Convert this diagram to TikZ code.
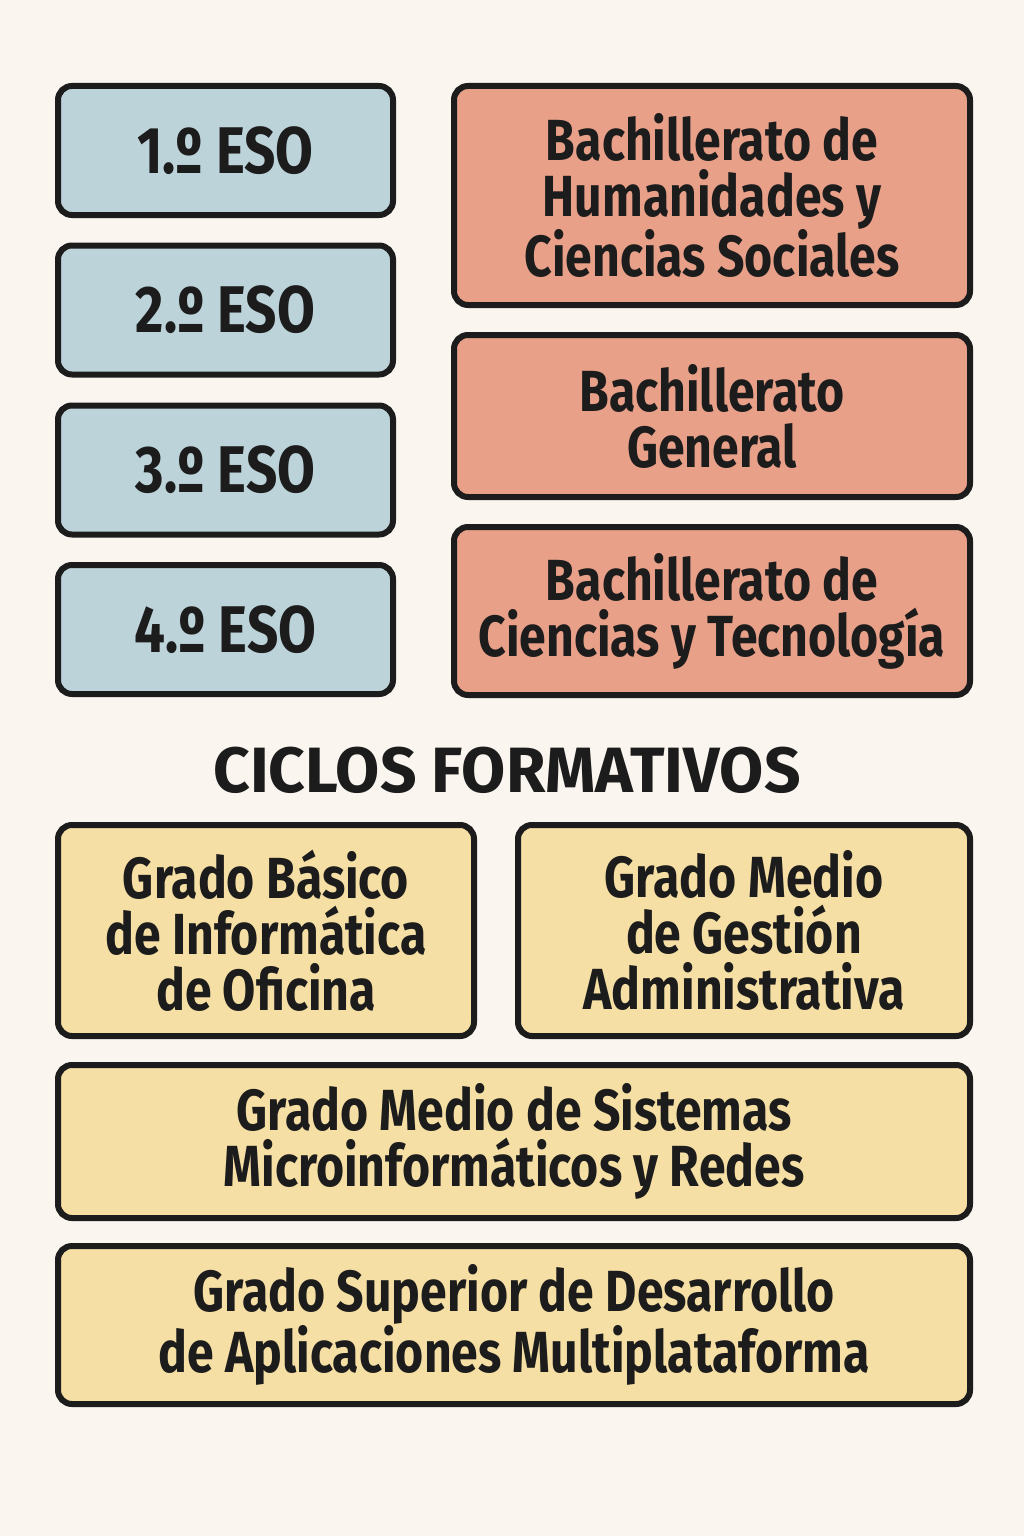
\documentclass[tikz,border=0pt]{standalone}
\usepackage{fontspec}
\setmainfont{Fira Sans}[FakeStretch=0.83]
\newfontfamily\headfont{Fira Sans}
\usepackage{xcolor}
\usetikzlibrary{positioning}
\definecolor{bgcream}{HTML}{FAF5EF}
\definecolor{esoblue}{HTML}{BCD3DA}
\definecolor{bachsalmon}{HTML}{E8A088}
\definecolor{gradoyellow}{HTML}{F6DFA4}
\definecolor{inkdark}{HTML}{1C1C1C}
\tikzset{
  card/.style={draw=inkdark, line width=6pt, rounded corners=14pt, align=center,
    text=inkdark, inner sep=0pt, font=\bfseries\fontsize{58}{56}\selectfont},
  esobox/.style={card, fill=esoblue, minimum width=335pt, minimum height=129pt,
    font=\bfseries\fontsize{66}{66}\selectfont},
  bachbox/.style={card, fill=bachsalmon, minimum width=516pt},
  gradobox/.style={card, fill=gradoyellow}
}
\begin{document}
\begin{tikzpicture}[x=1pt,y=-1pt]
        % Background
        \fill[bgcream] (0,0) rectangle (1024,1536);
        \useasboundingbox (0,0) rectangle (1024,1536);

        % ESO
        \foreach \n/\y in {1/150.5,2/310,3/470,4/629.5}
            \node[esobox] (eso\n) at (225.5,\y) {\n.º ESO};

        % Bachillerato
        \node[bachbox, minimum height=219pt] (bachhum) at (712,195.5)
            {Bachillerato de\\Humanidades y\\Ciencias Sociales};
        \node[bachbox, minimum height=162pt] (bachgen) at (712,416)
            {Bachillerato\\General};
        \node[bachbox, minimum height=168pt] (bachcyt) at (712,611)
            {Bachillerato de\\Ciencias y Tecnología};

        % Ciclos formativos
        \node[text=inkdark, font=\headfont\bfseries\fontsize{64}{64}\selectfont] (ciclos) at (507,770)
            {CICLOS FORMATIVOS};
        \node[gradobox, minimum width=416pt, minimum height=211pt] (gbasico) at (266,930.5)
            {Grado Básico\\de Informática\\de Oficina};
        \node[gradobox, minimum width=452pt, minimum height=211pt] (gmedio) at (744,930.5)
            {Grado Medio\\de Gestión\\Administrativa};
        \node[gradobox, minimum width=912pt, minimum height=153pt] (gsmr) at (514,1141.5)
            {Grado Medio de Sistemas\\Microinformáticos y Redes};
        \node[gradobox, minimum width=912pt, minimum height=158pt] (gdam) at (514,1325)
            {Grado Superior de Desarrollo\\de Aplicaciones Multiplataforma};
    \end{tikzpicture}
\end{document}
